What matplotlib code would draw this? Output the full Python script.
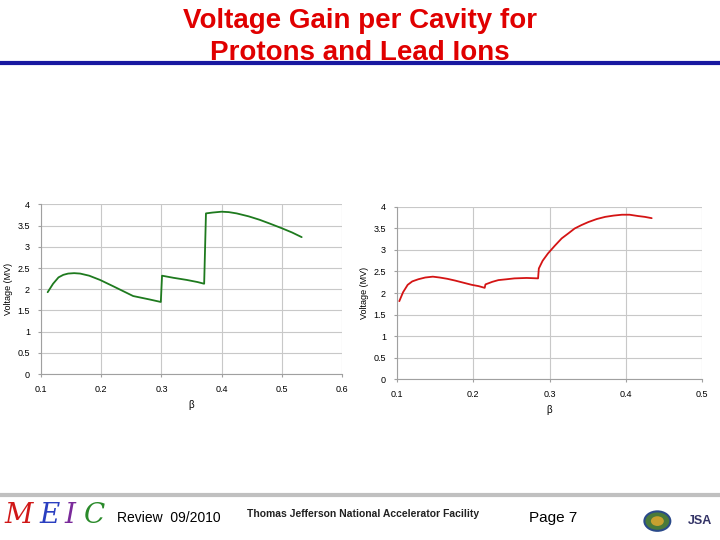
import matplotlib
matplotlib.use('Agg')
import matplotlib.pyplot as plt
from matplotlib.lines import Line2D
from matplotlib.patches import Circle

plt.rcParams['font.family'] = ['Liberation Sans', 'DejaVu Sans']

# =====================================================
# Data
# =====================================================

proton_beta = [0.111, 0.120, 0.129, 0.137, 0.145, 0.155, 0.165, 0.180, 0.198,
               0.220, 0.253, 0.280, 0.299,
               0.301, 0.320, 0.342, 0.360, 0.371,
               0.374, 0.385, 0.400, 0.412, 0.425, 0.445, 0.463, 0.480, 0.500,
               0.517, 0.533]
proton_volt = [1.93, 2.13, 2.28, 2.34, 2.37, 2.38, 2.37, 2.32, 2.22,
               2.07, 1.84, 1.76, 1.70,
               2.32, 2.27, 2.22, 2.17, 2.13,
               3.79, 3.81, 3.83, 3.82, 3.79, 3.72, 3.64, 3.55, 3.44,
               3.34, 3.23]

lead_beta = [0.103, 0.108, 0.114, 0.120, 0.128, 0.137, 0.147, 0.156, 0.166,
             0.176, 0.187, 0.198, 0.207, 0.215,
             0.216, 0.225, 0.233, 0.244, 0.254, 0.270, 0.285,
             0.286, 0.291, 0.298, 0.307, 0.316, 0.325, 0.333, 0.342, 0.351,
             0.362, 0.373, 0.384, 0.395, 0.405, 0.416, 0.425, 0.434]
lead_volt = [1.81, 2.02, 2.19, 2.27, 2.32, 2.36, 2.38, 2.36, 2.33,
             2.29, 2.24, 2.19, 2.16, 2.12,
             2.20, 2.26, 2.30, 2.32, 2.34, 2.35, 2.34,
             2.57, 2.75, 2.92, 3.10, 3.27, 3.39, 3.50, 3.58, 3.65,
             3.72, 3.77, 3.80, 3.82, 3.82, 3.79, 3.77, 3.74]

title_top = 'Voltage Gain per Cavity for'
title_bottom = 'Protons and Lead Ions'

# =====================================================
# Slide
# =====================================================

fig = plt.figure(figsize=(7.2, 5.4), dpi=100)
fig.patch.set_facecolor('white')

fig.text(0.5, 1 - 21 / 540, title_top, ha='center', va='center',
         color='#e00000', fontsize=20, fontweight='bold')
fig.text(0.5, 1 - 53 / 540, title_bottom, ha='center', va='center',
         color='#e00000', fontsize=20, fontweight='bold')
fig.add_artist(Line2D([0.0, 1.0], [1 - 63 / 540, 1 - 63 / 540],
                      color='#1818a0', lw=3, transform=fig.transFigure))


def style_chart(ax, xmax, color, beta, volt):
    ax.plot(beta, volt, color=color, lw=1.3, solid_capstyle='round')
    ax.set_xlim(0.1, xmax)
    ax.set_ylim(0, 4)
    n = int(round((xmax - 0.1) / 0.1))
    ax.set_xticks([round(0.1 + 0.1 * i, 1) for i in range(n + 1)])
    ax.set_yticks([0, 0.5, 1, 1.5, 2, 2.5, 3, 3.5, 4])
    ax.set_yticklabels(['0', '0.5', '1', '1.5', '2', '2.5', '3', '3.5', '4'])
    ax.grid(True, color='#c8c8c8', lw=0.8)
    ax.set_axisbelow(True)
    for s in ['top', 'right']:
        ax.spines[s].set_visible(False)
    for s in ['left', 'bottom']:
        ax.spines[s].set_color('#a0a0a0')
        ax.spines[s].set_linewidth(0.8)
    ax.tick_params(labelsize=6.5, length=2, color='#a0a0a0', pad=6)
    ax.set_ylabel('Voltage (MV)', fontsize=6.5, labelpad=3)
    ax.set_xlabel('β', fontsize=7, labelpad=4)


ax1 = fig.add_axes([0.057, 0.3074, 0.418, 0.3139])
style_chart(ax1, 0.6, '#1e7a1e', proton_beta, proton_volt)

ax2 = fig.add_axes([0.5514, 0.2981, 0.4236, 0.3186])
style_chart(ax2, 0.5, '#d41414', lead_beta, lead_volt)

# =====================================================
# Footer
# =====================================================

fig.add_artist(Line2D([0.0, 1.0], [0.083, 0.083], color='#c0c0c0', lw=3,
                      transform=fig.transFigure))

meic = [('M', '#d01818'), ('E', '#2a3fc0'), ('I', '#7a2a9a'), ('C', '#2a8a2a')]
xs = [0.006, 0.055, 0.089, 0.116]
for (ch, col), x in zip(meic, xs):
    fig.text(x, 0.031, ch, color=col, fontsize=20, fontstyle='italic',
             family=['DejaVu Serif'], ha='left', va='baseline')

fig.text(0.162, 0.033, 'Review  09/2010', fontsize=10, ha='left', va='baseline')
fig.text(0.343, 0.043, 'Thomas Jefferson National Accelerator Facility',
         fontsize=7.5, fontweight='bold', ha='left', va='baseline',
         family=['Liberation Sans Narrow', 'Liberation Sans'], color='#222222')
fig.text(0.735, 0.033, 'Page 7', fontsize=11, ha='left', va='baseline')

fig.add_artist(Circle((0.913, 0.035), 0.018, transform=fig.transFigure,
                      facecolor='#4a7a3a', edgecolor='#2a4a8a', lw=1.5))
fig.add_artist(Circle((0.913, 0.035), 0.009, transform=fig.transFigure,
                      facecolor='#c8a030', edgecolor='none'))
fig.text(0.955, 0.035, 'JSA', fontsize=9, fontweight='bold', color='#333366',
         ha='left', va='center')

fig.savefig('out.png', dpi=100)
